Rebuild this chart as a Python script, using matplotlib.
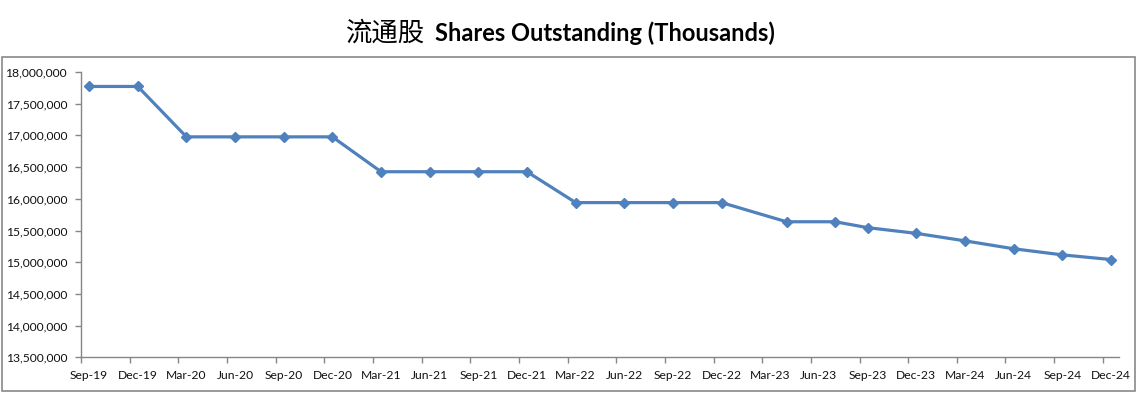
import matplotlib
matplotlib.use('Agg')
import matplotlib.pyplot as plt
from matplotlib.ticker import FuncFormatter, FixedLocator
from matplotlib.patches import Rectangle

# ---- data ----
point_months = ['2019-09', '2019-12', '2020-03', '2020-06', '2020-09', '2020-12',
                '2021-03', '2021-06', '2021-09', '2021-12', '2022-03', '2022-06',
                '2022-09', '2022-12', '2023-04', '2023-07', '2023-09', '2023-12',
                '2024-03', '2024-06', '2024-09', '2024-12']
shares = [17772000, 17772000, 16977000, 16977000, 16977000, 16977000,
          16427000, 16427000, 16427000, 16427000, 15940000, 15940000,
          15940000, 15940000, 15638000, 15638000, 15545000, 15455000,
          15337000, 15212000, 15116000, 15042000]
tick_labels = ['Sep-19', 'Dec-19', 'Mar-20', 'Jun-20', 'Sep-20', 'Dec-20',
               'Mar-21', 'Jun-21', 'Sep-21', 'Dec-21', 'Mar-22', 'Jun-22',
               'Sep-22', 'Dec-22', 'Mar-23', 'Jun-23', 'Sep-23', 'Dec-23',
               'Mar-24', 'Jun-24', 'Sep-24', 'Dec-24']
title_cn = '流通股'
title_en = 'Shares Outstanding (Thousands)'


def month_index(s, start=(2019, 9)):
    y, m = s.split('-')
    return (int(y) - start[0]) * 12 + int(m) - start[1]


x = [month_index(s) for s in point_months]
label_pos = [3 * i for i in range(len(tick_labels))]

W, H = 1141, 397
fig = plt.figure(figsize=(W / 100, H / 100), dpi=100)
fig.patch.set_facecolor('white')

# outer chart border
fig.add_artist(Rectangle((1.5 / W, 1 - 391 / H), 1133 / W, 334 / H,
                         transform=fig.transFigure, fill=False,
                         edgecolor='#898989', linewidth=1.2))

ax = fig.add_axes([81 / W, 1 - 357.3 / H, (1119 - 81) / W, (357.3 - 72) / H])
ax.plot(x, shares, color='#4F81BD', linewidth=2.3, marker='D',
        markersize=5.5, markerfacecolor='#4F81BD', markeredgecolor='#4F81BD',
        solid_joinstyle='round', zorder=3)

ax.set_xlim(-0.5, 63.5)
ax.set_ylim(13500000, 18000000)
ax.yaxis.set_major_locator(FixedLocator(range(13500000, 18000001, 500000)))
ax.yaxis.set_major_formatter(FuncFormatter(lambda v, p: f'{int(v):,}'))

ax.xaxis.set_major_locator(FixedLocator([p - 0.5 for p in label_pos]))
ax.xaxis.set_major_formatter(FuncFormatter(lambda v, p: ''))
ax.xaxis.set_minor_locator(FixedLocator(label_pos))
ax.set_xticklabels(tick_labels, minor=True)

for s in ['top', 'right']:
    ax.spines[s].set_visible(False)
for s in ['left', 'bottom']:
    ax.spines[s].set_color('#868686')
    ax.spines[s].set_linewidth(1.0)

ax.tick_params(axis='y', which='major', direction='out', length=4, width=1,
               color='#868686', pad=6, labelsize=8.7, labelcolor='#111111')
ax.tick_params(axis='x', which='major', direction='out', length=4, width=1,
               color='#868686')
ax.tick_params(axis='x', which='minor', length=0, pad=9, labelsize=8.7,
               labelcolor='#111111')
for lab in ax.get_yticklabels() + ax.get_xticklabels(minor=True):
    lab.set_family('Lato')

# title: Chinese part + English bold part
fig.text(346 / W, 1 - 33.5 / H, title_cn, ha='left', va='center',
         family=['Noto Sans CJK SC', 'DejaVu Sans'], fontsize=19, color='black')
fig.text(435 / W, 1 - 33.5 / H, title_en, ha='left', va='center',
         family='Lato', fontweight='bold', fontsize=17, color='black')

fig.savefig('out.png', dpi=100, facecolor='white')
